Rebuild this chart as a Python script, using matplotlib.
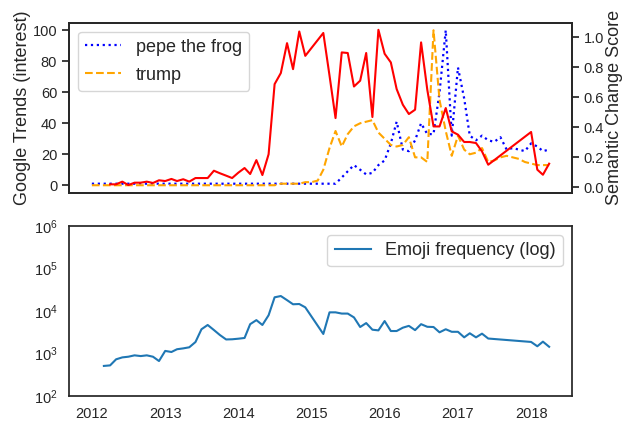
import matplotlib
matplotlib.use("Agg")
import matplotlib.pyplot as plt
import matplotlib.ticker as mticker
import pandas as pd

plt.rcParams['font.family'] = ['Liberation Sans', 'DejaVu Sans']
plt.rcParams['text.color'] = '0.15'
plt.rcParams['axes.labelcolor'] = '0.15'
plt.rcParams['xtick.color'] = '0.15'
plt.rcParams['ytick.color'] = '0.15'

# ---------------- data ----------------
# Google Trends (monthly, Jan 2012 - Apr 2018)
trend_start = '2012-01-01'
pepe = [1, 1, 1, 1, 1, 1, 1, 1, 1, 1, 1, 1,
        1, 1, 1, 1, 1, 1, 1, 1, 1, 1, 1, 1,
        1, 1, 1, 1, 1, 1, 1, 1, 1, 1, 1, 1,
        1, 1, 1, 1, 1, 5, 9, 13, 10, 7, 8, 13,
        16, 27, 41, 23, 22, 29, 40, 33, 33, 60, 100, 32,
        76, 56, 32, 29, 32, 29, 28, 31, 23, 24, 23, 22,
        27, 25, 22, 23]
trump = [0, 0, 0, 0, 0, 0, 0, 0, 0, 0, 0, 0,
         0, 0, 0, 0, 0, 0, 0, 0, 0, 0, 0, 0,
         0, 0, 0, 0, 0, 0, 0, 1, 1, 1, 1, 2,
         2, 3, 10, 24, 35, 25, 33, 38, 40, 41, 42, 34,
         30, 26, 25, 26, 31, 18, 18, 15, 100, 55, 35, 19,
         32, 23, 20, 21, 24, 15, 16, 18, 19, 18, 17, 15,
         14, 13, 13, 13]

# Emoji frequency (months with data)
emoji_months = [
    '2012-03', '2012-04', '2012-05', '2012-06', '2012-07', '2012-08', '2012-09', '2012-10', '2012-11', '2012-12',
    '2013-01', '2013-02', '2013-03', '2013-04', '2013-05', '2013-06', '2013-07', '2013-08', '2013-09', '2013-10', '2013-11', '2013-12',
    '2014-01', '2014-02', '2014-03', '2014-04', '2014-05', '2014-06', '2014-07', '2014-08', '2014-09', '2014-10', '2014-11', '2014-12',
    '2015-03', '2015-04', '2015-05', '2015-06', '2015-07', '2015-08', '2015-09', '2015-10', '2015-11', '2015-12',
    '2016-01', '2016-02', '2016-03', '2016-04', '2016-05', '2016-06', '2016-07', '2016-08', '2016-09', '2016-10', '2016-11', '2016-12',
    '2017-01', '2017-02', '2017-03', '2017-04', '2017-05', '2017-06',
    '2018-01', '2018-02', '2018-03', '2018-04']
emoji = [510, 525, 730, 810, 840, 905, 870, 905, 840, 665,
         1150, 1085, 1260, 1320, 1400, 1860, 3720, 4690, 3570, 2720, 2140, 2160,
         2230, 2320, 4900, 6100, 4690, 7950, 21000, 22500, 18000, 14400, 14600, 12200,
         2880, 9300, 9300, 8700, 8700, 7070, 4200, 5200, 3630, 3500,
         5800, 3380, 3380, 4050, 4470, 3550, 4900, 4250, 4200, 3150, 3720, 3240,
         3240, 2400, 2990, 2400, 2930, 2250,
         1870, 1480, 1900, 1440]

# Semantic change score (month-to-month, starts one month after emoji data)
semantic_months = emoji_months[1:]
semantic = [0.018, 0.018, 0.036, 0.013, 0.029, 0.029, 0.036, 0.027, 0.045,
            0.040, 0.054, 0.040, 0.052, 0.036, 0.060, 0.060, 0.060, 0.109, 0.092, 0.076, 0.060,
            0.096, 0.127, 0.087, 0.180, 0.080, 0.219, 0.688, 0.762, 0.962, 0.788, 1.040, 0.877,
            1.030, 0.745, 0.461, 0.900, 0.896, 0.672, 0.711, 0.896, 0.468, 1.051,
            0.891, 0.833, 0.655, 0.550, 0.488, 0.517, 0.967, 0.650, 0.405, 0.405, 0.528, 0.372,
            0.350, 0.301, 0.301, 0.294, 0.238, 0.149,
            0.368, 0.116, 0.082, 0.156]

trend_dates = pd.date_range(trend_start, periods=len(pepe), freq='MS')
emoji_dates = pd.to_datetime(emoji_months)
semantic_dates = pd.to_datetime(semantic_months)

# ---------------- figure ----------------
W, H = 624, 421
fig = plt.figure(figsize=(W / 100, H / 100), dpi=100)
ax1 = fig.add_axes([69 / W, 1 - 193 / H, 503 / W, 170.5 / H])
ax3 = fig.add_axes([69 / W, 1 - 396 / H, 503 / W, 170 / H], sharex=ax1)
ax2 = ax1.twinx()

ax1.plot(trend_dates, pepe, linestyle=':', color='blue', lw=1.6, label='pepe the frog')
ax1.plot(trend_dates, trump, linestyle='--', color='orange', lw=1.5, label='trump')
ax2.plot(semantic_dates, semantic, color='red', lw=1.5)
ax3.plot(emoji_dates, emoji, color='#1f77b4', lw=1.5, label='Emoji frequency (log)')

ax3.set_yscale('log')
ax3.set_ylim(1e2, 1e6)
ax3.yaxis.set_minor_locator(mticker.NullLocator())
ax2.set_ylim(-0.04, 1.10)
ax2.set_yticks([0.0, 0.2, 0.4, 0.6, 0.8, 1.0])
ax1.set_yticks([0, 20, 40, 60, 80, 100])

ax1.set_ylabel('Google Trends (interest)', fontsize=13, labelpad=1)
ax2.set_ylabel('Semantic Change Score', fontsize=13, labelpad=1)

for ax in (ax1, ax2, ax3):
    for sp in ax.spines.values():
        sp.set_color('0.15')
        sp.set_linewidth(1.25)

ax1.tick_params(axis='x', bottom=False, labelbottom=False)
ax1.tick_params(axis='y', direction='out', length=5, width=1.25, labelsize=10.5)
ax2.tick_params(axis='y', direction='out', length=5, width=1.25, labelsize=10.5)
ax3.tick_params(axis='both', length=0, labelsize=10.5, pad=8)

ax1.legend(loc='upper left', fontsize=13, handlelength=2, labelspacing=0.6)
ax3.legend(loc='upper right', fontsize=13, handlelength=2)

fig.savefig('out.png', dpi=100)
